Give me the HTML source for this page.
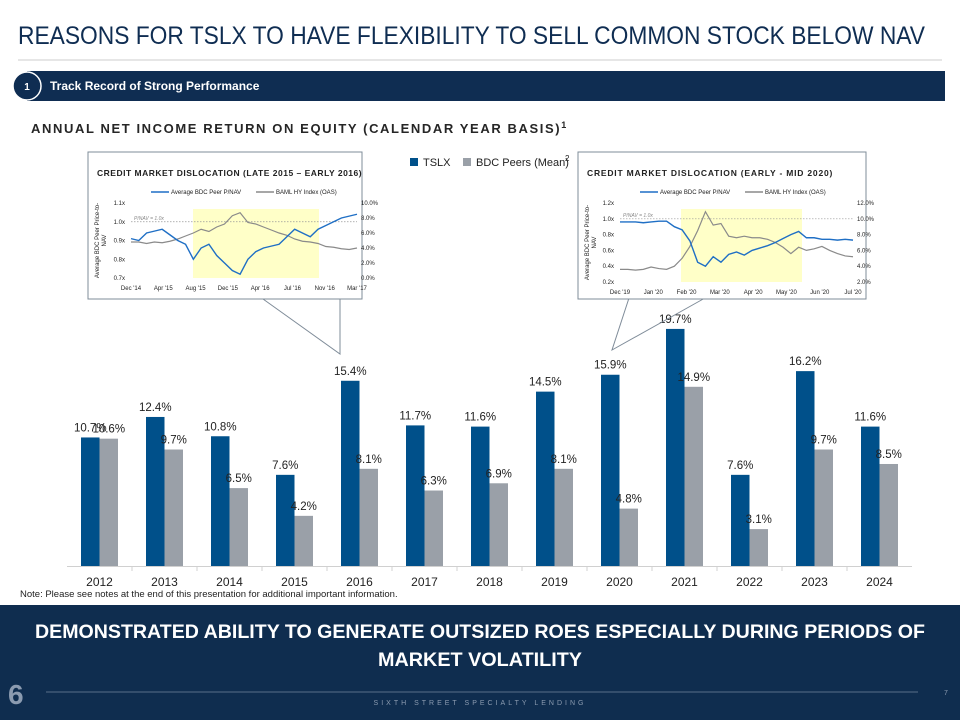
<!DOCTYPE html>
<html><head><meta charset="utf-8">
<style>
body{margin:0;width:960px;height:720px;overflow:hidden;background:#fff;font-family:"Liberation Sans",sans-serif;}
svg{display:block}
</style></head>
<body>
<svg width="960" height="720" viewBox="0 0 960 720" xmlns="http://www.w3.org/2000/svg" font-family="Liberation Sans, sans-serif">
<text x="18" y="44" font-size="25" fill="#0f2d52" textLength="907" lengthAdjust="spacingAndGlyphs">REASONS FOR TSLX TO HAVE FLEXIBILITY TO SELL COMMON STOCK BELOW NAV</text>
<line x1="18" y1="60" x2="942" y2="60" stroke="#ccc" stroke-width="1"/>
<rect x="27" y="71" width="918" height="30" fill="#0f2d52"/>
<circle cx="27" cy="86" r="14" fill="#0f2d52" stroke="#fff" stroke-width="1.5"/>
<text x="27" y="90" font-size="10" font-weight="bold" fill="#fff" text-anchor="middle">1</text>
<text x="50" y="90" font-size="12" font-weight="bold" fill="#fff">Track Record of Strong Performance</text>
<text x="31" y="133" font-size="13" font-weight="bold" fill="#262626" letter-spacing="1.6">ANNUAL NET INCOME RETURN ON EQUITY (CALENDAR YEAR BASIS)<tspan font-size="9" dy="-5">1</tspan></text>

<rect x="410" y="158" width="8" height="8" fill="#00508a"/>
<text x="423" y="166" font-size="11" fill="#222">TSLX</text>
<rect x="463" y="158" width="8" height="8" fill="#9aa0a8"/>
<text x="476" y="166" font-size="11" fill="#222">BDC Peers (Mean)</text>
<text x="565" y="161" font-size="8" fill="#222">2</text>

<g id="bars"></g>
<line x1="67" y1="566.5" x2="912" y2="566.5" stroke="#d0d0d0"/>
<g id="xlabels"></g>

<polyline points="263,299 340,354 340,299" fill="none" stroke="#7f8c99" stroke-width="1"/>
<polyline points="629,298 612,350 705,298" fill="none" stroke="#7f8c99" stroke-width="1"/>
<g id="inset1"></g>
<g id="inset2"></g>

<text x="20" y="597" font-size="9.5" fill="#222">Note: Please see notes at the end of this presentation for additional important information.</text>

<rect x="0" y="605" width="960" height="115" fill="#0f2d4f"/>
<text font-size="19.5" font-weight="bold" fill="#fff" text-anchor="middle"><tspan x="480" y="638" textLength="890" lengthAdjust="spacingAndGlyphs">DEMONSTRATED ABILITY TO GENERATE OUTSIZED ROES ESPECIALLY DURING PERIODS OF</tspan><tspan x="480" y="666" textLength="204" lengthAdjust="spacingAndGlyphs">MARKET VOLATILITY</tspan></text>
<text x="8" y="704" font-size="28" font-weight="bold" fill="#8b9bb0">6</text>
<line x1="46" y1="692" x2="918" y2="692" stroke="#5a6f8a" stroke-width="1"/>
<text x="944" y="695" font-size="7" fill="#8b9bb0">7</text>
<text x="480" y="705" font-size="7" fill="#8b9bb0" text-anchor="middle" letter-spacing="3">SIXTH STREET SPECIALTY LENDING</text>
</svg>
<script>
const years=["2012","2013","2014","2015","2016","2017","2018","2019","2020","2021","2022","2023","2024"];
const tslx=[10.7,12.4,10.8,7.6,15.4,11.7,11.6,14.5,15.9,19.7,7.6,16.2,11.6];
const peers=[10.6,9.7,6.5,4.2,8.1,6.3,6.9,8.1,4.8,14.9,3.1,9.7,8.5];
const inset1Blue=[0.91,0.90,0.94,0.95,0.96,0.93,0.90,0.88,0.80,0.86,0.88,0.82,0.78,0.74,0.72,0.80,0.84,0.86,0.87,0.88,0.92,0.96,0.94,0.92,0.96,0.98,1.00,1.02,1.03,1.04];
const inset1Gray=[4.8,4.8,4.6,4.8,4.7,4.9,5.2,5.6,6.0,6.5,6.2,6.8,7.2,8.3,8.7,7.4,7.2,6.8,6.4,6.0,5.7,5.2,4.9,4.8,4.6,4.2,4.1,3.9,3.8,4.0];
const inset2Blue=[0.96,0.96,0.96,0.95,0.96,0.97,0.97,0.90,0.86,0.72,0.45,0.40,0.52,0.45,0.55,0.58,0.54,0.60,0.63,0.66,0.70,0.75,0.80,0.84,0.76,0.76,0.74,0.74,0.73,0.74,0.73];
const inset2Gray=[3.6,3.6,3.5,3.6,3.9,3.7,3.6,4.0,5.0,6.5,8.5,10.9,9.2,9.4,7.8,7.6,7.8,7.6,7.6,7.4,7.0,6.4,5.6,6.4,6.0,6.2,6.5,6.0,5.6,5.3,5.2];
const NS="http://www.w3.org/2000/svg";
function mk(tag,attrs,parent){const e=document.createElementNS(NS,tag);for(const k in attrs)e.setAttribute(k,attrs[k]);parent.appendChild(e);return e;}
const x0=67,step=65,base=566.5,pxPer=12.06,bw=18.5;
const cx=i=>x0+step*(i+0.5);
const ys=v=>base-v*pxPer;
const gb=document.getElementById('bars'),gx=document.getElementById('xlabels');
years.forEach((y,i)=>{
  const c=cx(i);
  const r1=mk('rect',{x:c-bw,y:ys(tslx[i]),width:bw,height:base-ys(tslx[i]),fill:'#00508a'},gb);
  
  
  const r2=mk('rect',{x:c,y:ys(peers[i]),width:bw,height:base-ys(peers[i]),fill:'#9aa0a8'},gb);
  
  
  const t1=mk('text',{x:c-bw/2,y:ys(tslx[i])-6,'font-size':11.5,fill:'#222','text-anchor':'middle'},gb);
  t1.textContent=tslx[i].toFixed(1)+'%';
  
  
  const t2=mk('text',{x:c+bw/2,y:ys(peers[i])-6,'font-size':11.5,fill:'#222','text-anchor':'middle'},gb);
  t2.textContent=peers[i].toFixed(1)+'%';
  
  
  const tx=mk('text',{x:c,y:586,'font-size':12,fill:'#222','text-anchor':'middle'},gx);
  tx.textContent=y;
  
  
  if(i>0){mk('line',{x1:x0+step*i,y1:566,x2:x0+step*i,y2:571,stroke:'#d0d0d0'},gx);}
});
function inset(g,o){
  const box=mk('rect',{x:o.bx,y:152,width:o.bw,height:147,fill:'#fff',stroke:'#7f8c99','stroke-width':1},g);
  
  
  const t=mk('text',{x:o.bx+9,y:176,'font-size':8.5,'font-weight':'bold',fill:'#222','letter-spacing':o.ls},g);t.textContent=o.title;
  
  
  mk('line',{x1:o.L+20,y1:192,x2:o.L+38,y2:192,stroke:'#1f6fc5','stroke-width':1.5},g);
  const l1=mk('text',{x:o.L+40,y:194,'font-size':6,fill:'#222'},g);l1.textContent='Average BDC Peer P/NAV';
  mk('line',{x1:o.L+125,y1:192,x2:o.L+143,y2:192,stroke:'#8a8a8a','stroke-width':1.5},g);
  const l2=mk('text',{x:o.L+145,y:194,'font-size':6,fill:'#222'},g);l2.textContent='BAML HY Index (OAS)';
  const {L,R,T,B}=o;
  mk('rect',{x:o.yl,y:T+6,width:o.yr-o.yl,height:B-T-6,fill:'#ffffc8'},g);
  const yL=v=>B-(v-o.lmin)/(o.lmax-o.lmin)*(B-T);
  const yR=v=>B-(v-o.rmin)/(o.rmax-o.rmin)*(B-T);
  mk('line',{x1:L,y1:yL(1.0),x2:R,y2:yL(1.0),stroke:'#999','stroke-dasharray':'1.5,1.5','stroke-width':0.7},g);
  const pn=mk('text',{x:L+3,y:yL(1.0)-2,'font-size':5,fill:'#888','font-style':'italic'},g);pn.textContent='P/NAV = 1.0x';
  o.lt.forEach(v=>{const tt=mk('text',{x:L-6,y:yL(v)+2,'font-size':6,fill:'#222','text-anchor':'end'},g);tt.textContent=v.toFixed(1)+'x';});
  o.rt.forEach(v=>{const tt=mk('text',{x:R+4,y:yR(v)+2,'font-size':6,fill:'#222'},g);tt.textContent=v.toFixed(1)+'%';});
  o.xt.forEach((s,i)=>{const tt=mk('text',{x:L+(R-L)*i/(o.xt.length-1),y:B+12,'font-size':6,fill:'#222','text-anchor':'middle'},g);tt.textContent=s;});
  const at=mk('text',{'font-size':6,fill:'#222','text-anchor':'middle',transform:`translate(${o.bx+11},${(T+B)/2}) rotate(-90)`},g);
  at.innerHTML='<tspan x="0" y="0">Average BDC Peer Price-to-</tspan><tspan x="0" y="7">NAV</tspan>';
  const px=(i,n)=>L+(R-L)*i/(n-1);
  const gp=mk('polyline',{points:o.gray.map((v,i)=>px(i,o.gray.length)+','+yR(v)).join(' '),fill:'none',stroke:'#8a8a8a','stroke-width':1.2},g);
  
  
  const bp=mk('polyline',{points:o.blue.map((v,i)=>px(i,o.blue.length)+','+yL(v)).join(' '),fill:'none',stroke:'#1f6fc5','stroke-width':1.4},g);
  
  
}
inset(document.getElementById('inset1'),{name:'inset-2015',bx:88,bw:274,ls:0.5,title:'CREDIT MARKET DISLOCATION (LATE 2015 – EARLY 2016)',L:131,R:357,T:203,B:278,yl:193,yr:319,lmin:0.7,lmax:1.1,rmin:0,rmax:10,lt:[0.7,0.8,0.9,1.0,1.1],rt:[0,2,4,6,8,10],xt:["Dec '14","Apr '15","Aug '15","Dec '15","Apr '16","Jul '16","Nov '16","Mar '17"],blue:inset1Blue,gray:inset1Gray});
inset(document.getElementById('inset2'),{name:'inset-2020',bx:578,bw:288,ls:0.8,title:'CREDIT MARKET DISLOCATION (EARLY - MID 2020)',L:620,R:853,T:203,B:282,yl:681,yr:802,lmin:0.2,lmax:1.2,rmin:2,rmax:12,lt:[0.2,0.4,0.6,0.8,1.0,1.2],rt:[2,4,6,8,10,12],xt:["Dec '19","Jan '20","Feb '20","Mar '20","Apr '20","May '20","Jun '20","Jul '20"],blue:inset2Blue,gray:inset2Gray});
</script>
</body></html>
